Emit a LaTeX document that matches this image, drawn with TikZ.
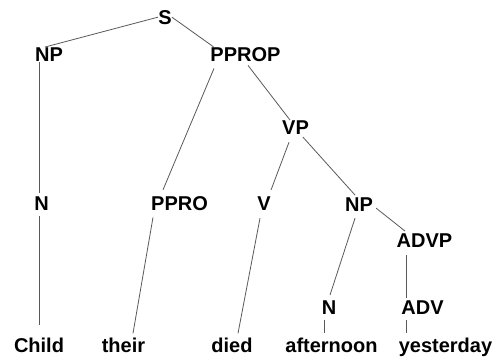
\documentclass[tikz,border=0pt]{standalone}
\usepackage{fontspec}
\setmainfont{Liberation Sans}
\usepackage{tikz}
\usetikzlibrary{positioning}

\begin{document}
\begin{tikzpicture}[x=1pt, y=-1pt,
    tag/.style={inner sep=0pt, anchor=base, font=\fontsize{20}{24}\selectfont\bfseries},
    edge/.style={line width=0.8pt, black!65}]
        \useasboundingbox (0,0) rectangle (502,359);
        % labels of the tree
        \node (S) [tag] at (165,24) {S};
        \node (NP) [tag] at (49,61) {NP};
        \node (PPROP) [tag] at (245.5,61) {PPROP};
        \node (VP) [tag] at (295.5,134) {VP};
        \node (N) [tag] at (41.5,210) {N};
        \node (PPRO) [tag] at (179.5,210) {PPRO};
        \node (V) [tag] at (264,210) {V};
        \node (NPb) [tag] at (359,211) {NP};
        \node (ADVP) [tag] at (424.5,247) {ADVP};
        \node (Nb) [tag] at (329,314) {N};
        \node (ADV) [tag] at (422.5,314) {ADV};
        % words
        \node (child) [tag] at (39,352) {Child};
        \node (their) [tag] at (123.5,352) {their};
        \node (died) [tag] at (232,352) {died};
        \node (afternoon) [tag] at (331.5,352) {afternoon};
        \node (yesterday) [tag] at (445.5,352) {yesterday};
        % branches
        \draw [edge] (S.west) -- ([xshift=-4pt]NP.north);
        \draw [edge] (S.east) -- ([xshift=-32pt]PPROP.north);
        \draw [edge] ([xshift=-10pt,yshift=-1pt]NP.south) -- ([xshift=-2.5pt,yshift=3pt]N.north);
        \draw [edge] ([xshift=-2.5pt,yshift=-6pt]N.south) -- ([yshift=12pt]child.north);
        \draw [edge] ([xshift=-31.5pt,yshift=-7pt]PPROP.south) -- ([xshift=-16.5pt,yshift=6pt]PPRO.north);
        \draw [edge] ([xshift=-26.5pt,yshift=-7pt]PPRO.south) -- ([xshift=9.5pt,yshift=4pt]their.north);
        \draw [edge] ([xshift=2.5pt,yshift=-4pt]PPROP.south) -- ([xshift=-5.5pt]VP.north);
        \draw [edge] ([xshift=-6.5pt,yshift=-8pt]VP.south) -- ([xshift=7pt,yshift=6pt]V.north);
        \draw [edge] ([xshift=7.5pt,yshift=-3pt]VP.south) -- ([xshift=-4pt,yshift=2pt]NPb.north);
        \draw [edge] ([xshift=-4pt,yshift=-8pt]V.south) -- ([xshift=6pt,yshift=4pt]died.north);
        \draw [edge] ([xshift=-4pt,yshift=-7pt]NPb.south) -- ([xshift=1pt,yshift=5pt]Nb.north);
        \draw [edge] ([xshift=3pt,yshift=-4pt]NPb.east) -- ([xshift=-19.5pt,yshift=2pt]ADVP.north);
        \draw [edge] ([xshift=-18.5pt,yshift=-8pt]ADVP.south) -- ([xshift=-16.5pt,yshift=2pt]ADV.north);
        \draw [edge] ([xshift=-5pt,yshift=-6pt]Nb.south) -- ([xshift=-7.5pt,yshift=4pt]afternoon.north);
        \draw [edge] ([xshift=-16.5pt,yshift=-6pt]ADV.south) -- ([xshift=-39.5pt,yshift=4pt]yesterday.north);
    \end{tikzpicture}
\end{document}
